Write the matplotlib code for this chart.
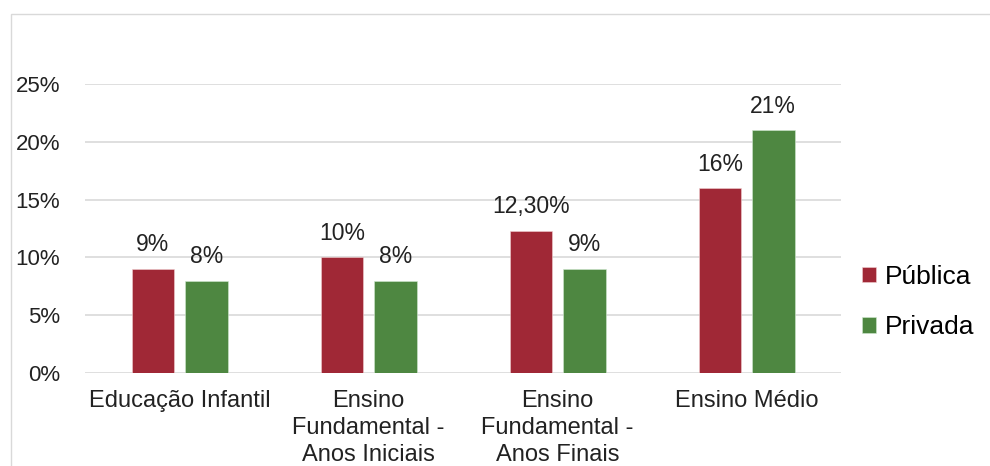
import numpy as np
import matplotlib.pyplot as plt
from matplotlib.patches import Rectangle

categories = ["Educação Infantil", "Ensino\nFundamental -\nAnos Iniciais",
              "Ensino\nFundamental -\nAnos Finais", "Ensino Médio"]
publica = [9, 10, 12.3, 16]
privada = [8, 8, 9, 21]
publica_labels = ["9%", "10%", "12,30%", "16%"]
privada_labels = ["8%", "8%", "9%", "21%"]
yticks = [0, 5, 10, 15, 20, 25]

red = "#A02836"
green = "#4E8741"
font = "Liberation Sans"
plt.rcParams['font.family'] = [font, 'DejaVu Sans']

fig = plt.figure(figsize=(9.9, 4.66), dpi=100)
# light frame around the chart area
fig.patches.append(Rectangle((11 / 990, -0.1), 1.2, 1.1 - 14 / 466, transform=fig.transFigure,
                             fill=False, edgecolor="#D9D9D9", linewidth=1.0))

ax = fig.add_axes([0.0859, 0.1996, 0.7636, 0.6201])
x = np.arange(len(categories))
w = 0.225
off = 0.1415
b1 = ax.bar(x - off, publica, w, color=red, label="Pública", zorder=3,
            edgecolor="#f0d0d0", linewidth=0.4)
b2 = ax.bar(x + off, privada, w, color=green, label="Privada", zorder=3,
            edgecolor="#d0e8d0", linewidth=0.4)

for bars, labs in ((b1, publica_labels), (b2, privada_labels)):
    for r, t in zip(bars, labs):
        ax.annotate(t, (r.get_x() + r.get_width() / 2, r.get_height()),
                    xytext=(0, 9), textcoords="offset points",
                    ha="center", va="bottom", fontsize=16.5, color="#222222")

ax.set_xlim(-0.5, len(categories) - 0.5)
ax.set_ylim(0, 25)
ax.set_yticks(yticks)
ax.set_yticklabels([f"{v}%" for v in yticks], fontsize=16, color="#222222")
ax.set_xticks(x)
ax.set_xticklabels(categories, fontsize=17, color="#222222", linespacing=1.3)
ax.tick_params(axis="both", length=0)
ax.tick_params(axis="y", pad=18)
ax.tick_params(axis="x", pad=12)
ax.grid(axis="y", color="#D9D9D9", linewidth=1.2, zorder=0)
for s in ax.spines.values():
    s.set_visible(False)

fig.legend(handles=[b1, b2], loc="center left", bbox_to_anchor=(851 / 990, 1 - 302 / 466),
           frameon=False, fontsize=19, handlelength=0.55, handleheight=0.55,
           handletextpad=0.35, labelspacing=1.0, borderaxespad=0)

fig.savefig("out.png", dpi=100, facecolor="white")
